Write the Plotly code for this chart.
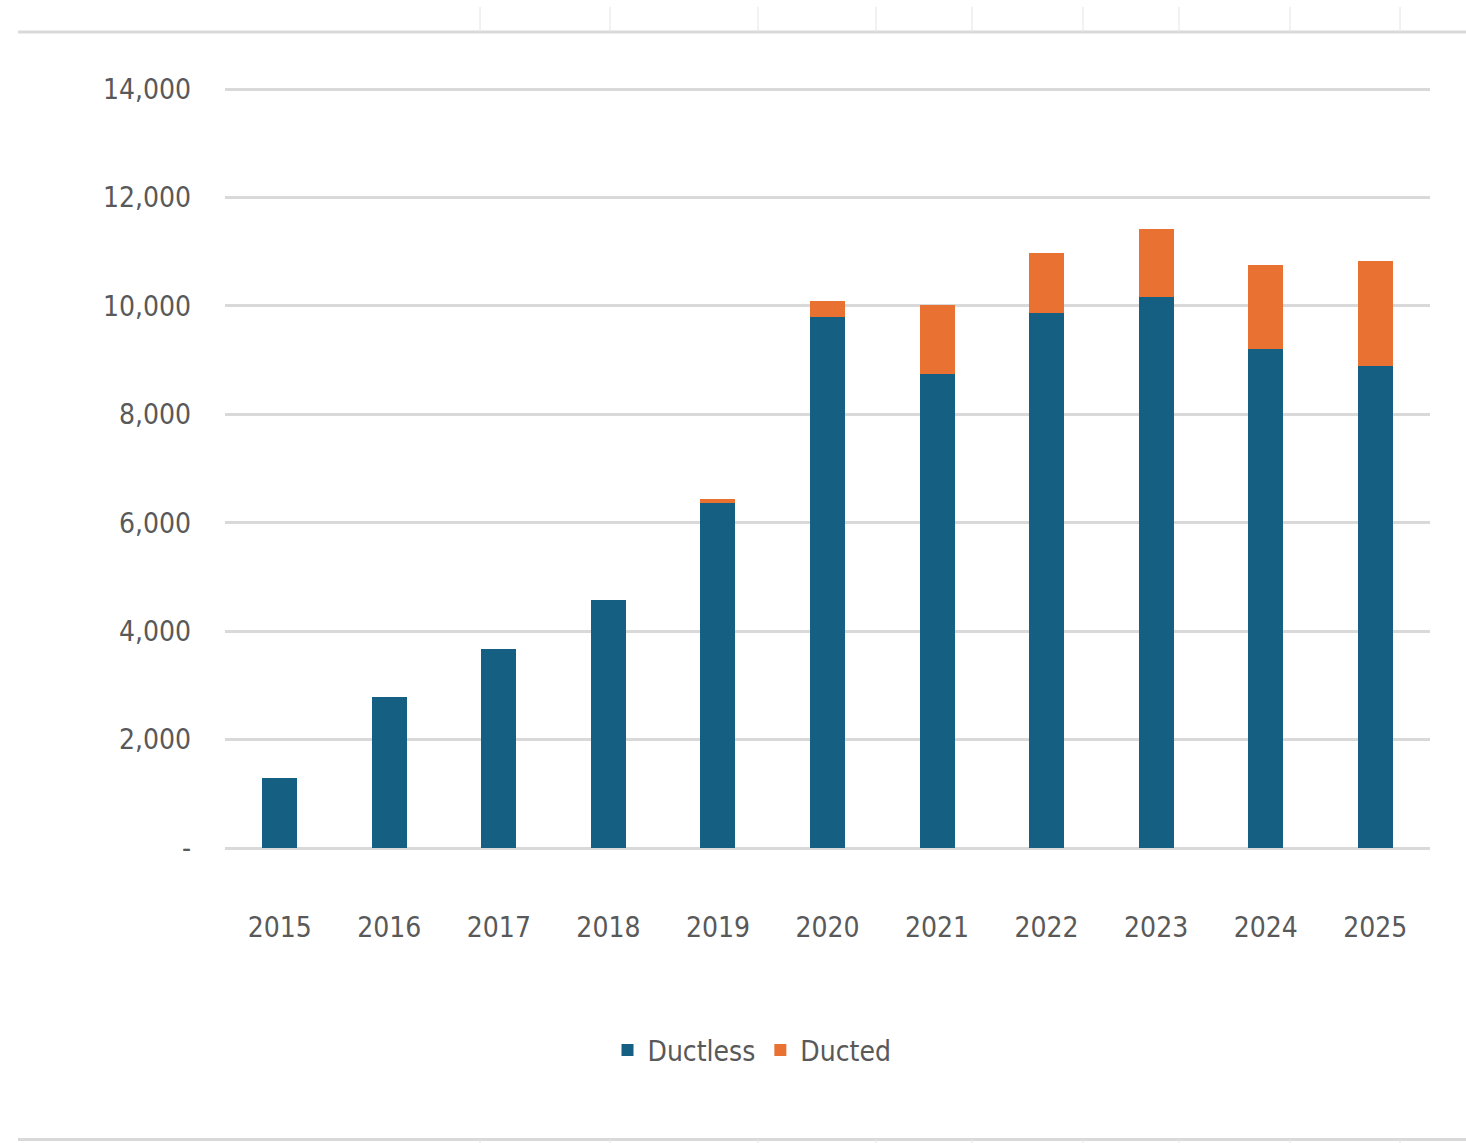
import plotly.graph_objects as go

years = ["2015", "2016", "2017", "2018", "2019", "2020", "2021", "2022", "2023", "2024", "2025"]
ductless = [1290, 2780, 3670, 4570, 6360, 9790, 8740, 9870, 10160, 9200, 8890]
ducted = [0, 0, 0, 0, 75, 295, 1275, 1105, 1255, 1550, 1935]
y_ticks = [0, 2000, 4000, 6000, 8000, 10000, 12000, 14000]
y_tick_text = ["-", "2,000", "4,000", "6,000", "8,000", "10,000", "12,000", "14,000"]

BLUE = "#156082"
ORANGE = "#E97132"
GRID = "#d9d9d9"
TEXT = "#595959"
FONT = "DejaVu Sans Condensed, Liberation Sans Narrow, Arial Narrow, sans-serif"

W, H = 1466, 1143
L, R, T, B = 225, 36, 89, 295
pw, ph = W - L - R, H - T - B


def px_x(x):
    return (x - L) / pw


def px_y(y):
    return (H - B - y) / ph


fig = go.Figure()
fig.add_trace(go.Bar(x=years, y=ductless, name="Ductless", marker=dict(color=BLUE, line=dict(width=0))))
fig.add_trace(go.Bar(x=years, y=ducted, name="Ducted", marker=dict(color=ORANGE, line=dict(width=0))))

# decorative frame lines from the spreadsheet screenshot
shapes = []
frame_ticks = [480, 610, 758, 876, 972, 1083, 1179, 1290, 1400]
for yy, y0, y1 in [(33, 8, 33), (1139, 1139, 1143)]:
    shapes.append(dict(type="line", xref="paper", yref="paper", x0=px_x(18), x1=px_x(1466),
                       y0=px_y(yy), y1=px_y(yy), line=dict(color=GRID, width=3)))
    for fx in frame_ticks:
        shapes.append(dict(type="line", xref="paper", yref="paper", x0=px_x(fx), x1=px_x(fx),
                           y0=px_y(y0), y1=px_y(y1), line=dict(color="#e4e4e4", width=1)))

fig.update_layout(
    barmode="stack",
    bargap=0.68,
    width=W, height=H,
    margin=dict(l=L, r=R, t=T - 1, b=B, pad=0),
    paper_bgcolor="white", plot_bgcolor="white",
    font=dict(family=FONT, color=TEXT, size=28),
    shapes=shapes,
    legend=dict(orientation="h", x=px_x(752), y=px_y(1050), xanchor="center", yanchor="middle",
                font=dict(size=28, color=TEXT), itemwidth=30, traceorder="normal"),
    xaxis=dict(showgrid=False, showline=False, ticks="", ticklabelstandoff=60,
               tickfont=dict(size=28, color=TEXT)),
    yaxis=dict(range=[0, 14020], tickvals=y_ticks, ticktext=y_tick_text, showgrid=True,
               gridcolor=GRID, gridwidth=3, zeroline=True, zerolinecolor=GRID, zerolinewidth=3,
               showline=False, ticks="", ticklabelstandoff=33, tickfont=dict(size=28, color=TEXT)),
)

fig.write_html("out.html")
